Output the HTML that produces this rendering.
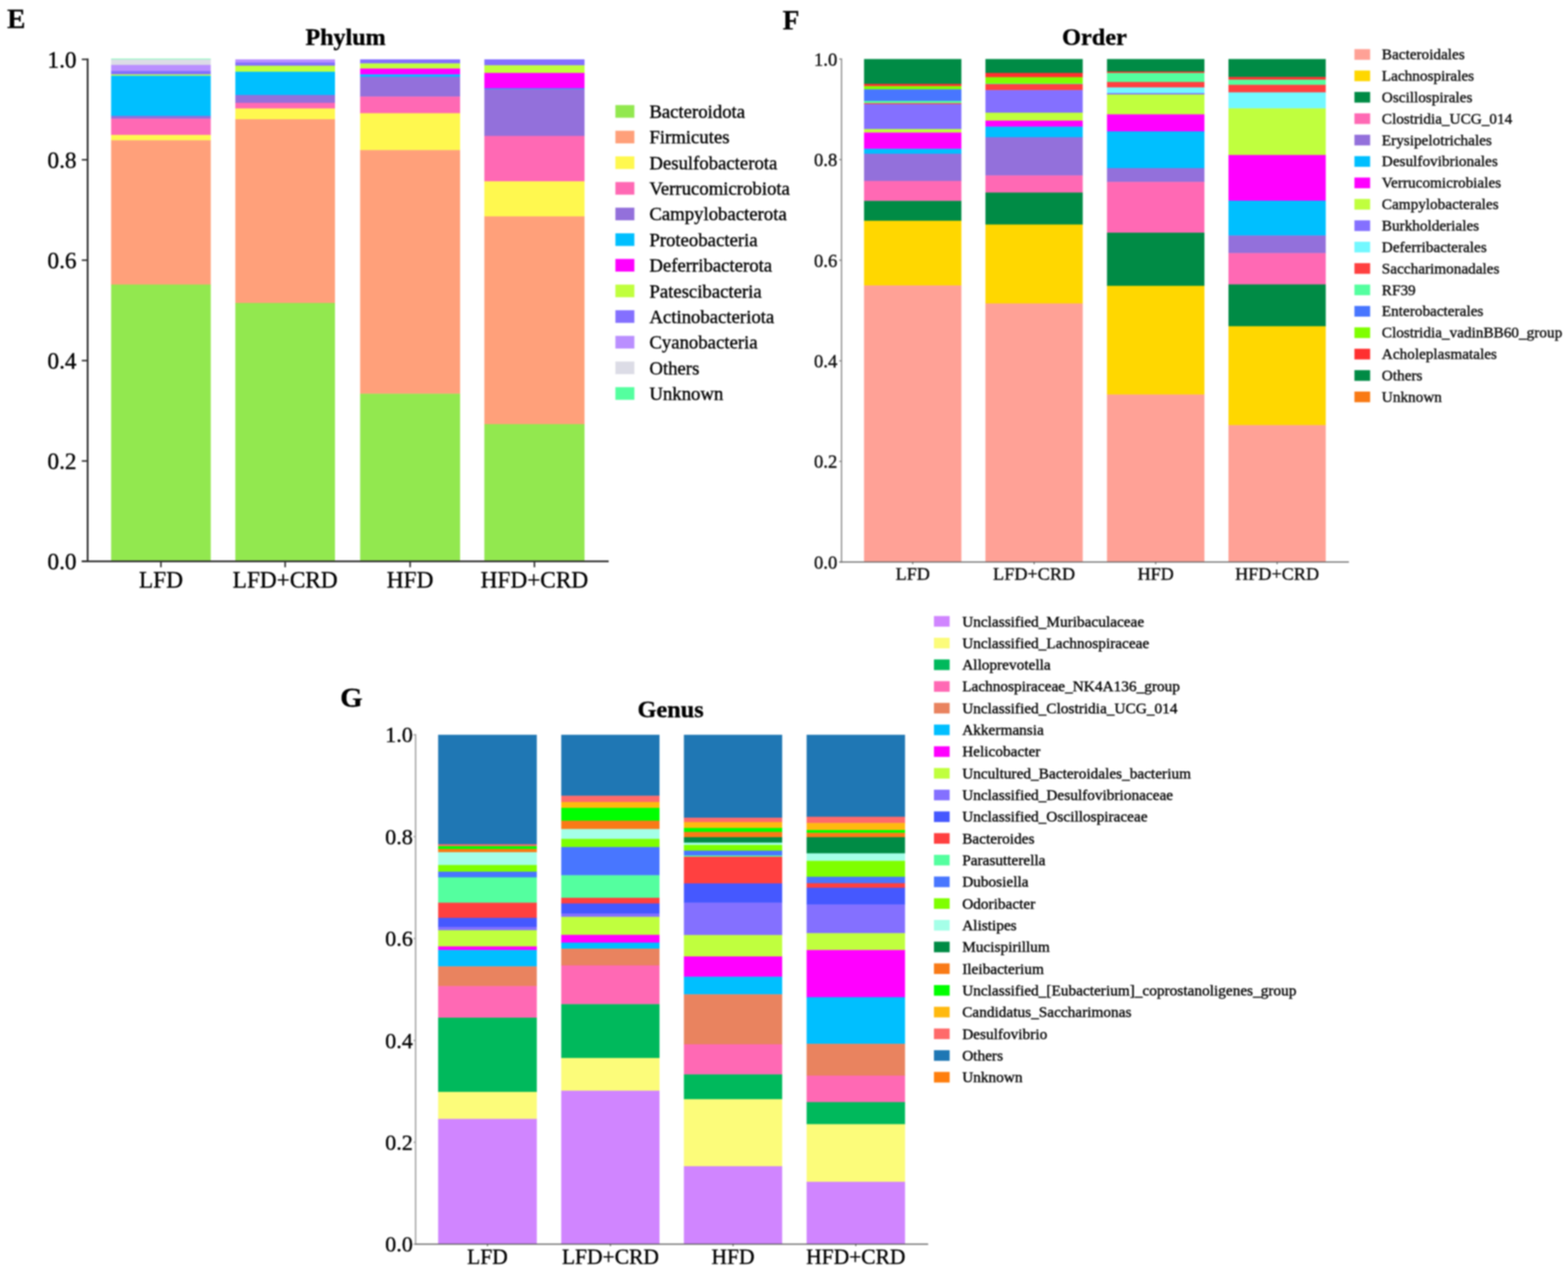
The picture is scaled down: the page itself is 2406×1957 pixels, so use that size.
<!DOCTYPE html>
<html lang="en">
<head>
<meta charset="utf-8">
<title>Relative abundance: Phylum, Order, Genus</title>
<style>
html, body { margin: 0; padding: 0; background: #ffffff; }
body { width: 2406px; height: 1957px; overflow: hidden; }
svg { display: block; font-family: "Liberation Serif", "Times New Roman", serif; filter: blur(0.8px); }
text { white-space: pre; stroke: #101010; stroke-width: 0.55px; paint-order: stroke fill; }
</style>
</head>
<body>
<svg width="2406" height="1957" viewBox="0 0 2406 1957">
<g>
<rect x="0" y="0" width="2406" height="1957" fill="#ffffff"/>
<g shape-rendering="auto">
<rect x="170.50" y="90.20" width="152.90" height="1.30" fill="#54FF9F"/>
<rect x="170.50" y="91.10" width="152.90" height="8.95" fill="#DCDCE6"/>
<rect x="170.50" y="99.65" width="152.90" height="9.70" fill="#BA8FFF"/>
<rect x="170.50" y="108.95" width="152.90" height="5.65" fill="#8470FF"/>
<rect x="170.50" y="114.20" width="152.90" height="2.40" fill="#C0FF3E"/>
<rect x="170.50" y="116.20" width="152.90" height="62.00" fill="#00BFFF"/>
<rect x="170.50" y="177.80" width="152.90" height="4.80" fill="#9370DB"/>
<rect x="170.50" y="182.20" width="152.90" height="25.30" fill="#FF69B4"/>
<rect x="170.50" y="207.10" width="152.90" height="8.60" fill="#FFF84F"/>
<rect x="170.50" y="215.30" width="152.90" height="221.80" fill="#FFA07A"/>
<rect x="170.50" y="436.70" width="152.90" height="425.00" fill="#92E84F"/>
<rect x="361.10" y="91.10" width="152.90" height="5.10" fill="#BA8FFF"/>
<rect x="361.10" y="95.80" width="152.90" height="5.40" fill="#8470FF"/>
<rect x="361.10" y="100.80" width="152.90" height="9.70" fill="#C0FF3E"/>
<rect x="361.10" y="110.10" width="152.90" height="36.10" fill="#00BFFF"/>
<rect x="361.10" y="145.80" width="152.90" height="12.40" fill="#9370DB"/>
<rect x="361.10" y="157.80" width="152.90" height="9.10" fill="#FF69B4"/>
<rect x="361.10" y="166.50" width="152.90" height="16.90" fill="#FFF84F"/>
<rect x="361.10" y="183.00" width="152.90" height="282.40" fill="#FFA07A"/>
<rect x="361.10" y="465.00" width="152.90" height="396.70" fill="#92E84F"/>
<rect x="552.60" y="91.10" width="153.40" height="6.60" fill="#8470FF"/>
<rect x="552.60" y="97.30" width="153.40" height="8.30" fill="#C0FF3E"/>
<rect x="552.60" y="105.20" width="153.40" height="9.40" fill="#FF00FF"/>
<rect x="552.60" y="114.20" width="153.40" height="3.90" fill="#00BFFF"/>
<rect x="552.60" y="117.70" width="153.40" height="30.90" fill="#9370DB"/>
<rect x="552.60" y="148.20" width="153.40" height="25.90" fill="#FF69B4"/>
<rect x="552.60" y="173.70" width="153.40" height="57.10" fill="#FFF84F"/>
<rect x="552.60" y="230.40" width="153.40" height="374.30" fill="#FFA07A"/>
<rect x="552.60" y="604.30" width="153.40" height="257.40" fill="#92E84F"/>
<rect x="743.20" y="91.10" width="153.70" height="9.50" fill="#8470FF"/>
<rect x="743.20" y="100.20" width="153.70" height="12.10" fill="#C0FF3E"/>
<rect x="743.20" y="111.90" width="153.70" height="24.10" fill="#FF00FF"/>
<rect x="743.20" y="135.60" width="153.70" height="1.50" fill="#00BFFF"/>
<rect x="743.20" y="136.70" width="153.70" height="72.30" fill="#9370DB"/>
<rect x="743.20" y="208.60" width="153.70" height="70.10" fill="#FF69B4"/>
<rect x="743.20" y="278.30" width="153.70" height="54.20" fill="#FFF84F"/>
<rect x="743.20" y="332.10" width="153.70" height="319.30" fill="#FFA07A"/>
<rect x="743.20" y="651.00" width="153.70" height="210.70" fill="#92E84F"/>
</g>
<line x1="134.50" y1="89.70" x2="134.50" y2="863.10" stroke="#303030" stroke-width="2.8"/>
<line x1="125.50" y1="861.70" x2="934.00" y2="861.70" stroke="#303030" stroke-width="2.8"/>
<line x1="125.50" y1="861.70" x2="134.50" y2="861.70" stroke="#303030" stroke-width="2.4"/>
<text transform="translate(117.50 874.20) scale(1.0000 1)" font-size="35.8" text-anchor="end" font-weight="normal" fill="#000">0.0</text>
<line x1="125.50" y1="707.58" x2="134.50" y2="707.58" stroke="#303030" stroke-width="2.4"/>
<text transform="translate(117.50 720.08) scale(1.0000 1)" font-size="35.8" text-anchor="end" font-weight="normal" fill="#000">0.2</text>
<line x1="125.50" y1="553.46" x2="134.50" y2="553.46" stroke="#303030" stroke-width="2.4"/>
<text transform="translate(117.50 565.96) scale(1.0000 1)" font-size="35.8" text-anchor="end" font-weight="normal" fill="#000">0.4</text>
<line x1="125.50" y1="399.34" x2="134.50" y2="399.34" stroke="#303030" stroke-width="2.4"/>
<text transform="translate(117.50 411.84) scale(1.0000 1)" font-size="35.8" text-anchor="end" font-weight="normal" fill="#000">0.6</text>
<line x1="125.50" y1="245.22" x2="134.50" y2="245.22" stroke="#303030" stroke-width="2.4"/>
<text transform="translate(117.50 257.72) scale(1.0000 1)" font-size="35.8" text-anchor="end" font-weight="normal" fill="#000">0.8</text>
<line x1="125.50" y1="91.10" x2="134.50" y2="91.10" stroke="#303030" stroke-width="2.4"/>
<text transform="translate(117.50 103.60) scale(1.0000 1)" font-size="35.8" text-anchor="end" font-weight="normal" fill="#000">1.0</text>
<line x1="246.95" y1="861.70" x2="246.95" y2="870.70" stroke="#303030" stroke-width="2.4"/>
<text transform="translate(246.95 902.00) scale(1.0000 1)" font-size="35.7" text-anchor="middle" font-weight="normal" fill="#000">LFD</text>
<line x1="437.55" y1="861.70" x2="437.55" y2="870.70" stroke="#303030" stroke-width="2.4"/>
<text transform="translate(437.55 902.00) scale(1.0000 1)" font-size="35.7" text-anchor="middle" font-weight="normal" fill="#000">LFD+CRD</text>
<line x1="629.30" y1="861.70" x2="629.30" y2="870.70" stroke="#303030" stroke-width="2.4"/>
<text transform="translate(629.30 902.00) scale(1.0000 1)" font-size="35.7" text-anchor="middle" font-weight="normal" fill="#000">HFD</text>
<line x1="820.05" y1="861.70" x2="820.05" y2="870.70" stroke="#303030" stroke-width="2.4"/>
<text transform="translate(820.05 902.00) scale(1.0000 1)" font-size="35.7" text-anchor="middle" font-weight="normal" fill="#000">HFD+CRD</text>
<text transform="translate(530.20 69.00) scale(1.0120 1)" font-size="36.5" text-anchor="middle" font-weight="bold" fill="#000">Phylum</text>
<text transform="translate(11.00 43.00) scale(1.0000 1)" font-size="42" text-anchor="start" font-weight="bold" fill="#000">E</text>
<rect x="944.30" y="161.30" width="29.10" height="19.40" fill="#92E84F"/>
<text transform="translate(996.40 181.00) scale(1.0130 1)" font-size="28.4" text-anchor="start" font-weight="normal" fill="#000">Bacteroidota</text>
<rect x="944.30" y="200.66" width="29.10" height="19.40" fill="#FFA07A"/>
<text transform="translate(996.40 220.36) scale(1.0130 1)" font-size="28.4" text-anchor="start" font-weight="normal" fill="#000">Firmicutes</text>
<rect x="944.30" y="240.02" width="29.10" height="19.40" fill="#FFF84F"/>
<text transform="translate(996.40 259.72) scale(1.0130 1)" font-size="28.4" text-anchor="start" font-weight="normal" fill="#000">Desulfobacterota</text>
<rect x="944.30" y="279.38" width="29.10" height="19.40" fill="#FF69B4"/>
<text transform="translate(996.40 299.08) scale(1.0130 1)" font-size="28.4" text-anchor="start" font-weight="normal" fill="#000">Verrucomicrobiota</text>
<rect x="944.30" y="318.74" width="29.10" height="19.40" fill="#9370DB"/>
<text transform="translate(996.40 338.44) scale(1.0130 1)" font-size="28.4" text-anchor="start" font-weight="normal" fill="#000">Campylobacterota</text>
<rect x="944.30" y="358.10" width="29.10" height="19.40" fill="#00BFFF"/>
<text transform="translate(996.40 377.80) scale(1.0130 1)" font-size="28.4" text-anchor="start" font-weight="normal" fill="#000">Proteobacteria</text>
<rect x="944.30" y="397.46" width="29.10" height="19.40" fill="#FF00FF"/>
<text transform="translate(996.40 417.16) scale(1.0130 1)" font-size="28.4" text-anchor="start" font-weight="normal" fill="#000">Deferribacterota</text>
<rect x="944.30" y="436.82" width="29.10" height="19.40" fill="#C0FF3E"/>
<text transform="translate(996.40 456.52) scale(1.0130 1)" font-size="28.4" text-anchor="start" font-weight="normal" fill="#000">Patescibacteria</text>
<rect x="944.30" y="476.18" width="29.10" height="19.40" fill="#8470FF"/>
<text transform="translate(996.40 495.88) scale(1.0130 1)" font-size="28.4" text-anchor="start" font-weight="normal" fill="#000">Actinobacteriota</text>
<rect x="944.30" y="515.54" width="29.10" height="19.40" fill="#BA8FFF"/>
<text transform="translate(996.40 535.24) scale(1.0130 1)" font-size="28.4" text-anchor="start" font-weight="normal" fill="#000">Cyanobacteria</text>
<rect x="944.30" y="554.90" width="29.10" height="19.40" fill="#DCDCE6"/>
<text transform="translate(996.40 574.60) scale(1.0130 1)" font-size="28.4" text-anchor="start" font-weight="normal" fill="#000">Others</text>
<rect x="944.30" y="594.26" width="29.10" height="19.40" fill="#54FF9F"/>
<text transform="translate(996.40 613.96) scale(1.0130 1)" font-size="28.4" text-anchor="start" font-weight="normal" fill="#000">Unknown</text>
<g shape-rendering="auto">
<rect x="1325.80" y="90.60" width="149.40" height="38.50" fill="#008B45"/>
<rect x="1325.80" y="128.70" width="149.40" height="3.90" fill="#FF3030"/>
<rect x="1325.80" y="132.20" width="149.40" height="5.30" fill="#7FFF00"/>
<rect x="1325.80" y="137.10" width="149.40" height="18.20" fill="#4876FF"/>
<rect x="1325.80" y="154.90" width="149.40" height="3.80" fill="#54FF9F"/>
<rect x="1325.80" y="158.30" width="149.40" height="1.90" fill="#FF4040"/>
<rect x="1325.80" y="159.80" width="149.40" height="38.70" fill="#8470FF"/>
<rect x="1325.80" y="198.10" width="149.40" height="5.70" fill="#C0FF3E"/>
<rect x="1325.80" y="203.40" width="149.40" height="25.40" fill="#FF00FF"/>
<rect x="1325.80" y="228.40" width="149.40" height="7.90" fill="#00BFFF"/>
<rect x="1325.80" y="235.90" width="149.40" height="42.20" fill="#9370DB"/>
<rect x="1325.80" y="277.70" width="149.40" height="31.00" fill="#FF69B4"/>
<rect x="1325.80" y="308.30" width="149.40" height="30.90" fill="#008B45"/>
<rect x="1325.80" y="338.80" width="149.40" height="99.70" fill="#FFD700"/>
<rect x="1325.80" y="438.10" width="149.40" height="424.50" fill="#FFA196"/>
<rect x="1512.10" y="90.60" width="149.30" height="21.70" fill="#008B45"/>
<rect x="1512.10" y="111.90" width="149.30" height="7.00" fill="#FF3030"/>
<rect x="1512.10" y="118.50" width="149.30" height="9.90" fill="#7FFF00"/>
<rect x="1512.10" y="128.00" width="149.30" height="1.40" fill="#54FF9F"/>
<rect x="1512.10" y="129.00" width="149.30" height="9.70" fill="#FF4040"/>
<rect x="1512.10" y="138.30" width="149.30" height="35.00" fill="#8470FF"/>
<rect x="1512.10" y="172.90" width="149.30" height="12.60" fill="#C0FF3E"/>
<rect x="1512.10" y="185.10" width="149.30" height="9.70" fill="#FF00FF"/>
<rect x="1512.10" y="194.40" width="149.30" height="16.60" fill="#00BFFF"/>
<rect x="1512.10" y="210.60" width="149.30" height="59.10" fill="#9370DB"/>
<rect x="1512.10" y="269.30" width="149.30" height="26.60" fill="#FF69B4"/>
<rect x="1512.10" y="295.50" width="149.30" height="49.50" fill="#008B45"/>
<rect x="1512.10" y="344.60" width="149.30" height="121.50" fill="#FFD700"/>
<rect x="1512.10" y="465.70" width="149.30" height="396.90" fill="#FFA196"/>
<rect x="1698.60" y="90.60" width="149.50" height="19.60" fill="#008B45"/>
<rect x="1698.60" y="109.80" width="149.50" height="2.50" fill="#FF3030"/>
<rect x="1698.60" y="111.90" width="149.50" height="14.30" fill="#54FF9F"/>
<rect x="1698.60" y="125.80" width="149.50" height="8.80" fill="#FF4040"/>
<rect x="1698.60" y="134.20" width="149.50" height="9.10" fill="#73F8FF"/>
<rect x="1698.60" y="142.90" width="149.50" height="2.50" fill="#8470FF"/>
<rect x="1698.60" y="145.00" width="149.50" height="30.90" fill="#C0FF3E"/>
<rect x="1698.60" y="175.50" width="149.50" height="26.50" fill="#FF00FF"/>
<rect x="1698.60" y="201.60" width="149.50" height="56.80" fill="#00BFFF"/>
<rect x="1698.60" y="258.00" width="149.50" height="21.60" fill="#9370DB"/>
<rect x="1698.60" y="279.20" width="149.50" height="78.30" fill="#FF69B4"/>
<rect x="1698.60" y="357.10" width="149.50" height="82.00" fill="#008B45"/>
<rect x="1698.60" y="438.70" width="149.50" height="167.20" fill="#FFD700"/>
<rect x="1698.60" y="605.50" width="149.50" height="257.10" fill="#FFA196"/>
<rect x="1885.00" y="90.60" width="149.30" height="28.00" fill="#008B45"/>
<rect x="1885.00" y="118.20" width="149.30" height="4.50" fill="#FF3030"/>
<rect x="1885.00" y="122.30" width="149.30" height="8.30" fill="#54FF9F"/>
<rect x="1885.00" y="130.20" width="149.30" height="11.90" fill="#FF4040"/>
<rect x="1885.00" y="141.70" width="149.30" height="25.00" fill="#73F8FF"/>
<rect x="1885.00" y="166.30" width="149.30" height="72.00" fill="#C0FF3E"/>
<rect x="1885.00" y="237.90" width="149.30" height="70.50" fill="#FF00FF"/>
<rect x="1885.00" y="308.00" width="149.30" height="53.80" fill="#00BFFF"/>
<rect x="1885.00" y="361.40" width="149.30" height="27.40" fill="#9370DB"/>
<rect x="1885.00" y="388.40" width="149.30" height="48.50" fill="#FF69B4"/>
<rect x="1885.00" y="436.50" width="149.30" height="64.60" fill="#008B45"/>
<rect x="1885.00" y="500.70" width="149.30" height="152.20" fill="#FFD700"/>
<rect x="1885.00" y="652.50" width="149.30" height="210.10" fill="#FFA196"/>
</g>
<line x1="1291.30" y1="89.70" x2="1291.30" y2="863.50" stroke="#808080" stroke-width="1.8"/>
<line x1="1287.80" y1="862.60" x2="2069.80" y2="862.60" stroke="#606060" stroke-width="1.6"/>
<line x1="1287.80" y1="862.60" x2="1291.30" y2="862.60" stroke="#808080" stroke-width="1.8"/>
<text transform="translate(1284.80 872.80) scale(1.0000 1)" font-size="28.6" text-anchor="end" font-weight="normal" fill="#0a0a0a">0.0</text>
<line x1="1287.80" y1="708.20" x2="1291.30" y2="708.20" stroke="#808080" stroke-width="1.8"/>
<text transform="translate(1284.80 718.40) scale(1.0000 1)" font-size="28.6" text-anchor="end" font-weight="normal" fill="#0a0a0a">0.2</text>
<line x1="1287.80" y1="553.80" x2="1291.30" y2="553.80" stroke="#808080" stroke-width="1.8"/>
<text transform="translate(1284.80 564.00) scale(1.0000 1)" font-size="28.6" text-anchor="end" font-weight="normal" fill="#0a0a0a">0.4</text>
<line x1="1287.80" y1="399.40" x2="1291.30" y2="399.40" stroke="#808080" stroke-width="1.8"/>
<text transform="translate(1284.80 409.60) scale(1.0000 1)" font-size="28.6" text-anchor="end" font-weight="normal" fill="#0a0a0a">0.6</text>
<line x1="1287.80" y1="245.00" x2="1291.30" y2="245.00" stroke="#808080" stroke-width="1.8"/>
<text transform="translate(1284.80 255.20) scale(1.0000 1)" font-size="28.6" text-anchor="end" font-weight="normal" fill="#0a0a0a">0.8</text>
<line x1="1287.80" y1="90.60" x2="1291.30" y2="90.60" stroke="#808080" stroke-width="1.8"/>
<text transform="translate(1284.80 100.80) scale(1.0000 1)" font-size="28.6" text-anchor="end" font-weight="normal" fill="#0a0a0a">1.0</text>
<line x1="1400.50" y1="862.60" x2="1400.50" y2="866.10" stroke="#606060" stroke-width="1.6"/>
<text transform="translate(1400.50 889.60) scale(1.0000 1)" font-size="27.9" text-anchor="middle" font-weight="normal" fill="#0a0a0a">LFD</text>
<line x1="1586.75" y1="862.60" x2="1586.75" y2="866.10" stroke="#606060" stroke-width="1.6"/>
<text transform="translate(1586.75 889.60) scale(1.0000 1)" font-size="27.9" text-anchor="middle" font-weight="normal" fill="#0a0a0a">LFD+CRD</text>
<line x1="1773.35" y1="862.60" x2="1773.35" y2="866.10" stroke="#606060" stroke-width="1.6"/>
<text transform="translate(1773.35 889.60) scale(1.0000 1)" font-size="27.9" text-anchor="middle" font-weight="normal" fill="#0a0a0a">HFD</text>
<line x1="1959.65" y1="862.60" x2="1959.65" y2="866.10" stroke="#606060" stroke-width="1.6"/>
<text transform="translate(1959.65 889.60) scale(1.0000 1)" font-size="27.9" text-anchor="middle" font-weight="normal" fill="#0a0a0a">HFD+CRD</text>
<text transform="translate(1679.40 68.50) scale(1.0200 1)" font-size="36.5" text-anchor="middle" font-weight="bold" fill="#000">Order</text>
<text transform="translate(1201.00 45.00) scale(1.0000 1)" font-size="42" text-anchor="start" font-weight="bold" fill="#000">F</text>
<rect x="2078.30" y="75.40" width="24.10" height="16.40" fill="#FFA196"/>
<text transform="translate(2120.30 91.20) scale(1.0000 1)" font-size="23.4" text-anchor="start" font-weight="normal" fill="#0a0a0a">Bacteroidales</text>
<rect x="2078.30" y="108.25" width="24.10" height="16.40" fill="#FFD700"/>
<text transform="translate(2120.30 124.05) scale(1.0000 1)" font-size="23.4" text-anchor="start" font-weight="normal" fill="#0a0a0a">Lachnospirales</text>
<rect x="2078.30" y="141.10" width="24.10" height="16.40" fill="#008B45"/>
<text transform="translate(2120.30 156.90) scale(1.0000 1)" font-size="23.4" text-anchor="start" font-weight="normal" fill="#0a0a0a">Oscillospirales</text>
<rect x="2078.30" y="173.95" width="24.10" height="16.40" fill="#FF69B4"/>
<text transform="translate(2120.30 189.75) scale(1.0000 1)" font-size="23.4" text-anchor="start" font-weight="normal" fill="#0a0a0a">Clostridia_UCG_014</text>
<rect x="2078.30" y="206.80" width="24.10" height="16.40" fill="#9370DB"/>
<text transform="translate(2120.30 222.60) scale(1.0000 1)" font-size="23.4" text-anchor="start" font-weight="normal" fill="#0a0a0a">Erysipelotrichales</text>
<rect x="2078.30" y="239.65" width="24.10" height="16.40" fill="#00BFFF"/>
<text transform="translate(2120.30 255.45) scale(1.0000 1)" font-size="23.4" text-anchor="start" font-weight="normal" fill="#0a0a0a">Desulfovibrionales</text>
<rect x="2078.30" y="272.50" width="24.10" height="16.40" fill="#FF00FF"/>
<text transform="translate(2120.30 288.30) scale(1.0000 1)" font-size="23.4" text-anchor="start" font-weight="normal" fill="#0a0a0a">Verrucomicrobiales</text>
<rect x="2078.30" y="305.35" width="24.10" height="16.40" fill="#C0FF3E"/>
<text transform="translate(2120.30 321.15) scale(1.0000 1)" font-size="23.4" text-anchor="start" font-weight="normal" fill="#0a0a0a">Campylobacterales</text>
<rect x="2078.30" y="338.20" width="24.10" height="16.40" fill="#8470FF"/>
<text transform="translate(2120.30 354.00) scale(1.0000 1)" font-size="23.4" text-anchor="start" font-weight="normal" fill="#0a0a0a">Burkholderiales</text>
<rect x="2078.30" y="371.05" width="24.10" height="16.40" fill="#73F8FF"/>
<text transform="translate(2120.30 386.85) scale(1.0000 1)" font-size="23.4" text-anchor="start" font-weight="normal" fill="#0a0a0a">Deferribacterales</text>
<rect x="2078.30" y="403.90" width="24.10" height="16.40" fill="#FF4040"/>
<text transform="translate(2120.30 419.70) scale(1.0000 1)" font-size="23.4" text-anchor="start" font-weight="normal" fill="#0a0a0a">Saccharimonadales</text>
<rect x="2078.30" y="436.75" width="24.10" height="16.40" fill="#54FF9F"/>
<text transform="translate(2120.30 452.55) scale(1.0000 1)" font-size="23.4" text-anchor="start" font-weight="normal" fill="#0a0a0a">RF39</text>
<rect x="2078.30" y="469.60" width="24.10" height="16.40" fill="#4876FF"/>
<text transform="translate(2120.30 485.40) scale(1.0000 1)" font-size="23.4" text-anchor="start" font-weight="normal" fill="#0a0a0a">Enterobacterales</text>
<rect x="2078.30" y="502.45" width="24.10" height="16.40" fill="#7FFF00"/>
<text transform="translate(2120.30 518.25) scale(1.0000 1)" font-size="23.4" text-anchor="start" font-weight="normal" fill="#0a0a0a">Clostridia_vadinBB60_group</text>
<rect x="2078.30" y="535.30" width="24.10" height="16.40" fill="#FF3030"/>
<text transform="translate(2120.30 551.10) scale(1.0000 1)" font-size="23.4" text-anchor="start" font-weight="normal" fill="#0a0a0a">Acholeplasmatales</text>
<rect x="2078.30" y="568.15" width="24.10" height="16.40" fill="#008B45"/>
<text transform="translate(2120.30 583.95) scale(1.0000 1)" font-size="23.4" text-anchor="start" font-weight="normal" fill="#0a0a0a">Others</text>
<rect x="2078.30" y="601.00" width="24.10" height="16.40" fill="#F97A15"/>
<text transform="translate(2120.30 616.80) scale(1.0000 1)" font-size="23.4" text-anchor="start" font-weight="normal" fill="#0a0a0a">Unknown</text>
<g shape-rendering="auto">
<rect x="672.30" y="1127.80" width="151.40" height="168.40" fill="#1F77B4"/>
<rect x="672.30" y="1295.80" width="151.40" height="3.30" fill="#FF6A6A"/>
<rect x="672.30" y="1298.70" width="151.40" height="4.70" fill="#00FF00"/>
<rect x="672.30" y="1303.00" width="151.40" height="5.40" fill="#F97A17"/>
<rect x="672.30" y="1308.00" width="151.40" height="20.10" fill="#A5FFE8"/>
<rect x="672.30" y="1327.70" width="151.40" height="10.60" fill="#7FFF00"/>
<rect x="672.30" y="1337.90" width="151.40" height="9.10" fill="#4876FF"/>
<rect x="672.30" y="1346.60" width="151.40" height="39.30" fill="#54FF9F"/>
<rect x="672.30" y="1385.50" width="151.40" height="23.70" fill="#FF4040"/>
<rect x="672.30" y="1408.80" width="151.40" height="14.30" fill="#4558FF"/>
<rect x="672.30" y="1422.70" width="151.40" height="5.40" fill="#8470FF"/>
<rect x="672.30" y="1427.70" width="151.40" height="25.30" fill="#C0FF3E"/>
<rect x="672.30" y="1452.60" width="151.40" height="6.00" fill="#FF00FF"/>
<rect x="672.30" y="1458.20" width="151.40" height="25.50" fill="#00BFFF"/>
<rect x="672.30" y="1483.30" width="151.40" height="30.60" fill="#E9835F"/>
<rect x="672.30" y="1513.50" width="151.40" height="48.90" fill="#FF69B4"/>
<rect x="672.30" y="1562.00" width="151.40" height="114.30" fill="#00B95C"/>
<rect x="672.30" y="1675.90" width="151.40" height="41.90" fill="#FCFC7A"/>
<rect x="672.30" y="1717.40" width="151.40" height="192.30" fill="#D085FF"/>
<rect x="861.20" y="1127.80" width="150.80" height="94.00" fill="#1F77B4"/>
<rect x="861.20" y="1221.40" width="150.80" height="10.00" fill="#FF6A6A"/>
<rect x="861.20" y="1231.00" width="150.80" height="9.40" fill="#FFB90F"/>
<rect x="861.20" y="1240.00" width="150.80" height="20.10" fill="#00FF00"/>
<rect x="861.20" y="1259.70" width="150.80" height="13.20" fill="#F97A17"/>
<rect x="861.20" y="1272.50" width="150.80" height="15.50" fill="#A5FFE8"/>
<rect x="861.20" y="1287.60" width="150.80" height="12.90" fill="#7FFF00"/>
<rect x="861.20" y="1300.10" width="150.80" height="43.70" fill="#4876FF"/>
<rect x="861.20" y="1343.40" width="150.80" height="35.00" fill="#54FF9F"/>
<rect x="861.20" y="1378.00" width="150.80" height="9.10" fill="#FF4040"/>
<rect x="861.20" y="1386.70" width="150.80" height="16.10" fill="#4558FF"/>
<rect x="861.20" y="1402.40" width="150.80" height="5.30" fill="#8470FF"/>
<rect x="861.20" y="1407.30" width="150.80" height="28.00" fill="#C0FF3E"/>
<rect x="861.20" y="1434.90" width="150.80" height="12.30" fill="#FF00FF"/>
<rect x="861.20" y="1446.80" width="150.80" height="9.70" fill="#00BFFF"/>
<rect x="861.20" y="1456.10" width="150.80" height="26.10" fill="#E9835F"/>
<rect x="861.20" y="1481.80" width="150.80" height="59.90" fill="#FF69B4"/>
<rect x="861.20" y="1541.30" width="150.80" height="83.00" fill="#00B95C"/>
<rect x="861.20" y="1623.90" width="150.80" height="50.60" fill="#FCFC7A"/>
<rect x="861.20" y="1674.10" width="150.80" height="235.60" fill="#D085FF"/>
<rect x="1049.40" y="1127.80" width="150.80" height="127.70" fill="#1F77B4"/>
<rect x="1049.40" y="1255.10" width="150.80" height="7.10" fill="#FF6A6A"/>
<rect x="1049.40" y="1261.80" width="150.80" height="9.40" fill="#FFB90F"/>
<rect x="1049.40" y="1270.80" width="150.80" height="6.50" fill="#00FF00"/>
<rect x="1049.40" y="1276.90" width="150.80" height="8.50" fill="#F97A17"/>
<rect x="1049.40" y="1285.00" width="150.80" height="8.80" fill="#008B45"/>
<rect x="1049.40" y="1293.40" width="150.80" height="3.90" fill="#A5FFE8"/>
<rect x="1049.40" y="1296.90" width="150.80" height="9.10" fill="#7FFF00"/>
<rect x="1049.40" y="1305.60" width="150.80" height="8.00" fill="#4876FF"/>
<rect x="1049.40" y="1313.20" width="150.80" height="2.20" fill="#54FF9F"/>
<rect x="1049.40" y="1315.00" width="150.80" height="41.30" fill="#FF4040"/>
<rect x="1049.40" y="1355.90" width="150.80" height="30.00" fill="#4558FF"/>
<rect x="1049.40" y="1385.50" width="150.80" height="50.10" fill="#8470FF"/>
<rect x="1049.40" y="1435.20" width="150.80" height="33.20" fill="#C0FF3E"/>
<rect x="1049.40" y="1468.00" width="150.80" height="31.60" fill="#FF00FF"/>
<rect x="1049.40" y="1499.20" width="150.80" height="27.40" fill="#00BFFF"/>
<rect x="1049.40" y="1526.20" width="150.80" height="77.10" fill="#E9835F"/>
<rect x="1049.40" y="1602.90" width="150.80" height="46.60" fill="#FF69B4"/>
<rect x="1049.40" y="1649.10" width="150.80" height="38.50" fill="#00B95C"/>
<rect x="1049.40" y="1687.20" width="150.80" height="103.20" fill="#FCFC7A"/>
<rect x="1049.40" y="1790.00" width="150.80" height="119.70" fill="#D085FF"/>
<rect x="1237.70" y="1127.80" width="151.00" height="126.20" fill="#1F77B4"/>
<rect x="1237.70" y="1253.60" width="151.00" height="10.00" fill="#FF6A6A"/>
<rect x="1237.70" y="1263.20" width="151.00" height="11.20" fill="#FFB90F"/>
<rect x="1237.70" y="1274.00" width="151.00" height="4.70" fill="#00FF00"/>
<rect x="1237.70" y="1278.30" width="151.00" height="7.10" fill="#F97A17"/>
<rect x="1237.70" y="1285.00" width="151.00" height="25.10" fill="#008B45"/>
<rect x="1237.70" y="1309.70" width="151.00" height="12.00" fill="#A5FFE8"/>
<rect x="1237.70" y="1321.30" width="151.00" height="24.80" fill="#7FFF00"/>
<rect x="1237.70" y="1345.70" width="151.00" height="10.30" fill="#4876FF"/>
<rect x="1237.70" y="1355.60" width="151.00" height="7.40" fill="#FF4040"/>
<rect x="1237.70" y="1362.60" width="151.00" height="26.20" fill="#4558FF"/>
<rect x="1237.70" y="1388.40" width="151.00" height="44.30" fill="#8470FF"/>
<rect x="1237.70" y="1432.30" width="151.00" height="26.30" fill="#C0FF3E"/>
<rect x="1237.70" y="1458.20" width="151.00" height="72.80" fill="#FF00FF"/>
<rect x="1237.70" y="1530.60" width="151.00" height="71.90" fill="#00BFFF"/>
<rect x="1237.70" y="1602.10" width="151.00" height="49.20" fill="#E9835F"/>
<rect x="1237.70" y="1650.90" width="151.00" height="41.10" fill="#FF69B4"/>
<rect x="1237.70" y="1691.60" width="151.00" height="34.30" fill="#00B95C"/>
<rect x="1237.70" y="1725.50" width="151.00" height="88.80" fill="#FCFC7A"/>
<rect x="1237.70" y="1813.90" width="151.00" height="95.80" fill="#D085FF"/>
</g>
<line x1="637.70" y1="1126.75" x2="637.70" y2="1910.75" stroke="#a0a0a0" stroke-width="2.1"/>
<line x1="636.65" y1="1909.70" x2="1424.20" y2="1909.70" stroke="#5a5a5a" stroke-width="1.7"/>
<line x1="634.70" y1="1909.70" x2="637.70" y2="1909.70" stroke="#a0a0a0" stroke-width="2.1"/>
<text transform="translate(633.40 1921.30) scale(1.0000 1)" font-size="34" text-anchor="end" font-weight="normal" fill="#000">0.0</text>
<line x1="634.70" y1="1753.32" x2="637.70" y2="1753.32" stroke="#a0a0a0" stroke-width="2.1"/>
<text transform="translate(633.40 1764.92) scale(1.0000 1)" font-size="34" text-anchor="end" font-weight="normal" fill="#000">0.2</text>
<line x1="634.70" y1="1596.94" x2="637.70" y2="1596.94" stroke="#a0a0a0" stroke-width="2.1"/>
<text transform="translate(633.40 1608.54) scale(1.0000 1)" font-size="34" text-anchor="end" font-weight="normal" fill="#000">0.4</text>
<line x1="634.70" y1="1440.56" x2="637.70" y2="1440.56" stroke="#a0a0a0" stroke-width="2.1"/>
<text transform="translate(633.40 1452.16) scale(1.0000 1)" font-size="34" text-anchor="end" font-weight="normal" fill="#000">0.6</text>
<line x1="634.70" y1="1284.18" x2="637.70" y2="1284.18" stroke="#a0a0a0" stroke-width="2.1"/>
<text transform="translate(633.40 1295.78) scale(1.0000 1)" font-size="34" text-anchor="end" font-weight="normal" fill="#000">0.8</text>
<line x1="634.70" y1="1127.80" x2="637.70" y2="1127.80" stroke="#a0a0a0" stroke-width="2.1"/>
<text transform="translate(633.40 1139.40) scale(1.0000 1)" font-size="34" text-anchor="end" font-weight="normal" fill="#000">1.0</text>
<line x1="748.00" y1="1909.70" x2="748.00" y2="1912.70" stroke="#5a5a5a" stroke-width="1.7"/>
<text transform="translate(748.00 1939.70) scale(1.0000 1)" font-size="33" text-anchor="middle" font-weight="normal" fill="#000">LFD</text>
<line x1="936.60" y1="1909.70" x2="936.60" y2="1912.70" stroke="#5a5a5a" stroke-width="1.7"/>
<text transform="translate(936.60 1939.70) scale(1.0000 1)" font-size="33" text-anchor="middle" font-weight="normal" fill="#000">LFD+CRD</text>
<line x1="1124.80" y1="1909.70" x2="1124.80" y2="1912.70" stroke="#5a5a5a" stroke-width="1.7"/>
<text transform="translate(1124.80 1939.70) scale(1.0000 1)" font-size="33" text-anchor="middle" font-weight="normal" fill="#000">HFD</text>
<line x1="1313.20" y1="1909.70" x2="1313.20" y2="1912.70" stroke="#5a5a5a" stroke-width="1.7"/>
<text transform="translate(1313.20 1939.70) scale(1.0000 1)" font-size="33" text-anchor="middle" font-weight="normal" fill="#000">HFD+CRD</text>
<text transform="translate(1029.00 1100.50) scale(1.0200 1)" font-size="36.5" text-anchor="middle" font-weight="bold" fill="#000">Genus</text>
<text transform="translate(522.00 1085.00) scale(1.0500 1)" font-size="42" text-anchor="start" font-weight="bold" fill="#000">G</text>
<rect x="1433.10" y="945.55" width="24.10" height="16.30" fill="#D085FF"/>
<text transform="translate(1476.40 961.50) scale(1.0000 1)" font-size="23.5" text-anchor="start" font-weight="normal" fill="#000">Unclassified_Muribaculaceae</text>
<rect x="1433.10" y="978.87" width="24.10" height="16.30" fill="#FCFC7A"/>
<text transform="translate(1476.40 994.82) scale(1.0000 1)" font-size="23.5" text-anchor="start" font-weight="normal" fill="#000">Unclassified_Lachnospiraceae</text>
<rect x="1433.10" y="1012.19" width="24.10" height="16.30" fill="#00B95C"/>
<text transform="translate(1476.40 1028.14) scale(1.0000 1)" font-size="23.5" text-anchor="start" font-weight="normal" fill="#000">Alloprevotella</text>
<rect x="1433.10" y="1045.51" width="24.10" height="16.30" fill="#FF69B4"/>
<text transform="translate(1476.40 1061.46) scale(1.0000 1)" font-size="23.5" text-anchor="start" font-weight="normal" fill="#000">Lachnospiraceae_NK4A136_group</text>
<rect x="1433.10" y="1078.83" width="24.10" height="16.30" fill="#E9835F"/>
<text transform="translate(1476.40 1094.78) scale(1.0000 1)" font-size="23.5" text-anchor="start" font-weight="normal" fill="#000">Unclassified_Clostridia_UCG_014</text>
<rect x="1433.10" y="1112.15" width="24.10" height="16.30" fill="#00BFFF"/>
<text transform="translate(1476.40 1128.10) scale(1.0000 1)" font-size="23.5" text-anchor="start" font-weight="normal" fill="#000">Akkermansia</text>
<rect x="1433.10" y="1145.47" width="24.10" height="16.30" fill="#FF00FF"/>
<text transform="translate(1476.40 1161.42) scale(1.0000 1)" font-size="23.5" text-anchor="start" font-weight="normal" fill="#000">Helicobacter</text>
<rect x="1433.10" y="1178.79" width="24.10" height="16.30" fill="#C0FF3E"/>
<text transform="translate(1476.40 1194.74) scale(1.0000 1)" font-size="23.5" text-anchor="start" font-weight="normal" fill="#000">Uncultured_Bacteroidales_bacterium</text>
<rect x="1433.10" y="1212.11" width="24.10" height="16.30" fill="#8470FF"/>
<text transform="translate(1476.40 1228.06) scale(1.0000 1)" font-size="23.5" text-anchor="start" font-weight="normal" fill="#000">Unclassified_Desulfovibrionaceae</text>
<rect x="1433.10" y="1245.43" width="24.10" height="16.30" fill="#4558FF"/>
<text transform="translate(1476.40 1261.38) scale(1.0000 1)" font-size="23.5" text-anchor="start" font-weight="normal" fill="#000">Unclassified_Oscillospiraceae</text>
<rect x="1433.10" y="1278.75" width="24.10" height="16.30" fill="#FF4040"/>
<text transform="translate(1476.40 1294.70) scale(1.0000 1)" font-size="23.5" text-anchor="start" font-weight="normal" fill="#000">Bacteroides</text>
<rect x="1433.10" y="1312.07" width="24.10" height="16.30" fill="#54FF9F"/>
<text transform="translate(1476.40 1328.02) scale(1.0000 1)" font-size="23.5" text-anchor="start" font-weight="normal" fill="#000">Parasutterella</text>
<rect x="1433.10" y="1345.39" width="24.10" height="16.30" fill="#4876FF"/>
<text transform="translate(1476.40 1361.34) scale(1.0000 1)" font-size="23.5" text-anchor="start" font-weight="normal" fill="#000">Dubosiella</text>
<rect x="1433.10" y="1378.71" width="24.10" height="16.30" fill="#7FFF00"/>
<text transform="translate(1476.40 1394.66) scale(1.0000 1)" font-size="23.5" text-anchor="start" font-weight="normal" fill="#000">Odoribacter</text>
<rect x="1433.10" y="1412.03" width="24.10" height="16.30" fill="#A5FFE8"/>
<text transform="translate(1476.40 1427.98) scale(1.0000 1)" font-size="23.5" text-anchor="start" font-weight="normal" fill="#000">Alistipes</text>
<rect x="1433.10" y="1445.35" width="24.10" height="16.30" fill="#008B45"/>
<text transform="translate(1476.40 1461.30) scale(1.0000 1)" font-size="23.5" text-anchor="start" font-weight="normal" fill="#000">Mucispirillum</text>
<rect x="1433.10" y="1478.67" width="24.10" height="16.30" fill="#F97A17"/>
<text transform="translate(1476.40 1494.62) scale(1.0000 1)" font-size="23.5" text-anchor="start" font-weight="normal" fill="#000">Ileibacterium</text>
<rect x="1433.10" y="1511.99" width="24.10" height="16.30" fill="#00FF00"/>
<text transform="translate(1476.40 1527.94) scale(1.0000 1)" font-size="23.5" text-anchor="start" font-weight="normal" fill="#000">Unclassified_[Eubacterium]_coprostanoligenes_group</text>
<rect x="1433.10" y="1545.31" width="24.10" height="16.30" fill="#FFB90F"/>
<text transform="translate(1476.40 1561.26) scale(1.0000 1)" font-size="23.5" text-anchor="start" font-weight="normal" fill="#000">Candidatus_Saccharimonas</text>
<rect x="1433.10" y="1578.63" width="24.10" height="16.30" fill="#FF6A6A"/>
<text transform="translate(1476.40 1594.58) scale(1.0000 1)" font-size="23.5" text-anchor="start" font-weight="normal" fill="#000">Desulfovibrio</text>
<rect x="1433.10" y="1611.95" width="24.10" height="16.30" fill="#1F77B4"/>
<text transform="translate(1476.40 1627.90) scale(1.0000 1)" font-size="23.5" text-anchor="start" font-weight="normal" fill="#000">Others</text>
<rect x="1433.10" y="1645.27" width="24.10" height="16.30" fill="#FF7F0E"/>
<text transform="translate(1476.40 1661.22) scale(1.0000 1)" font-size="23.5" text-anchor="start" font-weight="normal" fill="#000">Unknown</text>
</g>
</svg>
</body>
</html>
